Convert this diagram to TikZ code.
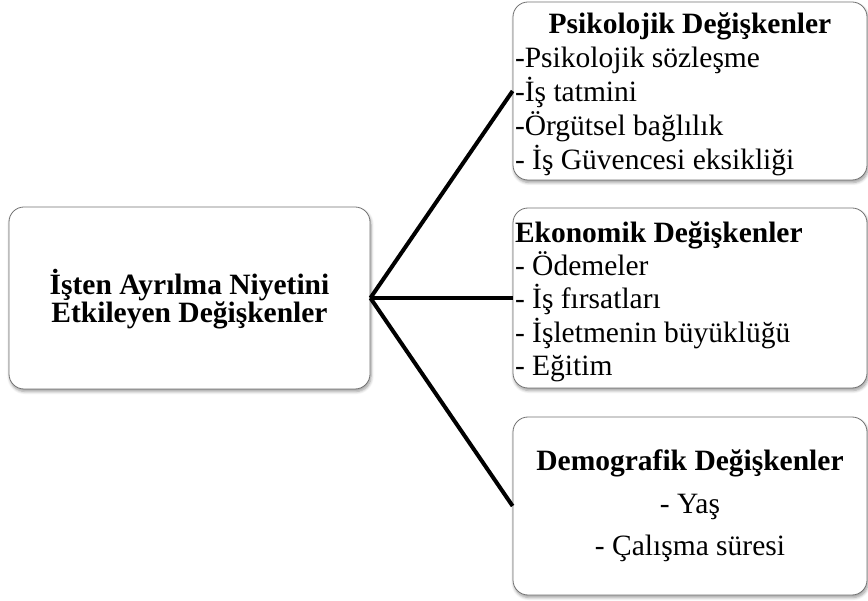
\documentclass[tikz,border=0pt]{standalone}
\usepackage{fontspec}
\setmainfont{Liberation Serif}
\usetikzlibrary{shadows.blur}

\newcommand{\rwidth}{350pt}
\tikzset{
  factorbox/.style={shape=rectangle, rounded corners=15pt, draw=black!55, line width=0.8pt, fill=white,
    blur shadow={shadow xshift=1pt, shadow yshift=-2.5pt, shadow blur steps=6, shadow blur radius=3pt, shadow opacity=40},
    inner xsep=2pt, inner ysep=0pt},
  link/.style={line width=4pt, black}
}

\begin{document}
\begin{tikzpicture}[x=1pt,y=-1pt]
\useasboundingbox (0,0) rectangle (868,601);

\node[factorbox, minimum width=361pt, minimum height=182pt, align=center, font=\fontsize{29.5}{25}\selectfont\bfseries](main) at (189.5,298) {\rule{0pt}{27pt}İşten Ayrılma Niyetini\\Etkileyen Değişkenler};

\node[factorbox, minimum width=354pt, minimum height=178pt, text width=\rwidth, align=flush left, font=\fontsize{29.5}{34}\selectfont](psy) at (690,91) {\rule{0pt}{28pt}\makebox[\rwidth]{\bfseries Psikolojik Değişkenler}\\-Psikolojik sözleşme\\-İş tatmini\\-Örgütsel bağlılık\\- İş Güvencesi eksikliği};
\node[factorbox, minimum width=354pt, minimum height=180pt, text width=\rwidth, align=flush left, font=\fontsize{29.5}{33.3}\selectfont](eco) at (690,298) {\rule{0pt}{28pt}\textbf{Ekonomik Değişkenler}\\- Ödemeler\\- İş fırsatları\\- İşletmenin büyüklüğü\\- Eğitim};
\node[factorbox, minimum width=354pt, minimum height=178pt, align=center, font=\fontsize{29.5}{42.5}\selectfont](demo) at (690,506) {\textbf{Demografik Değişkenler}\\- Yaş\\- Çalışma süresi};

\draw[link] (main.east) -- (psy.west);
\draw[link] (main.east) -- (eco.west);
\draw[link] (main.east) -- (demo.west);
\end{tikzpicture}
\end{document}
